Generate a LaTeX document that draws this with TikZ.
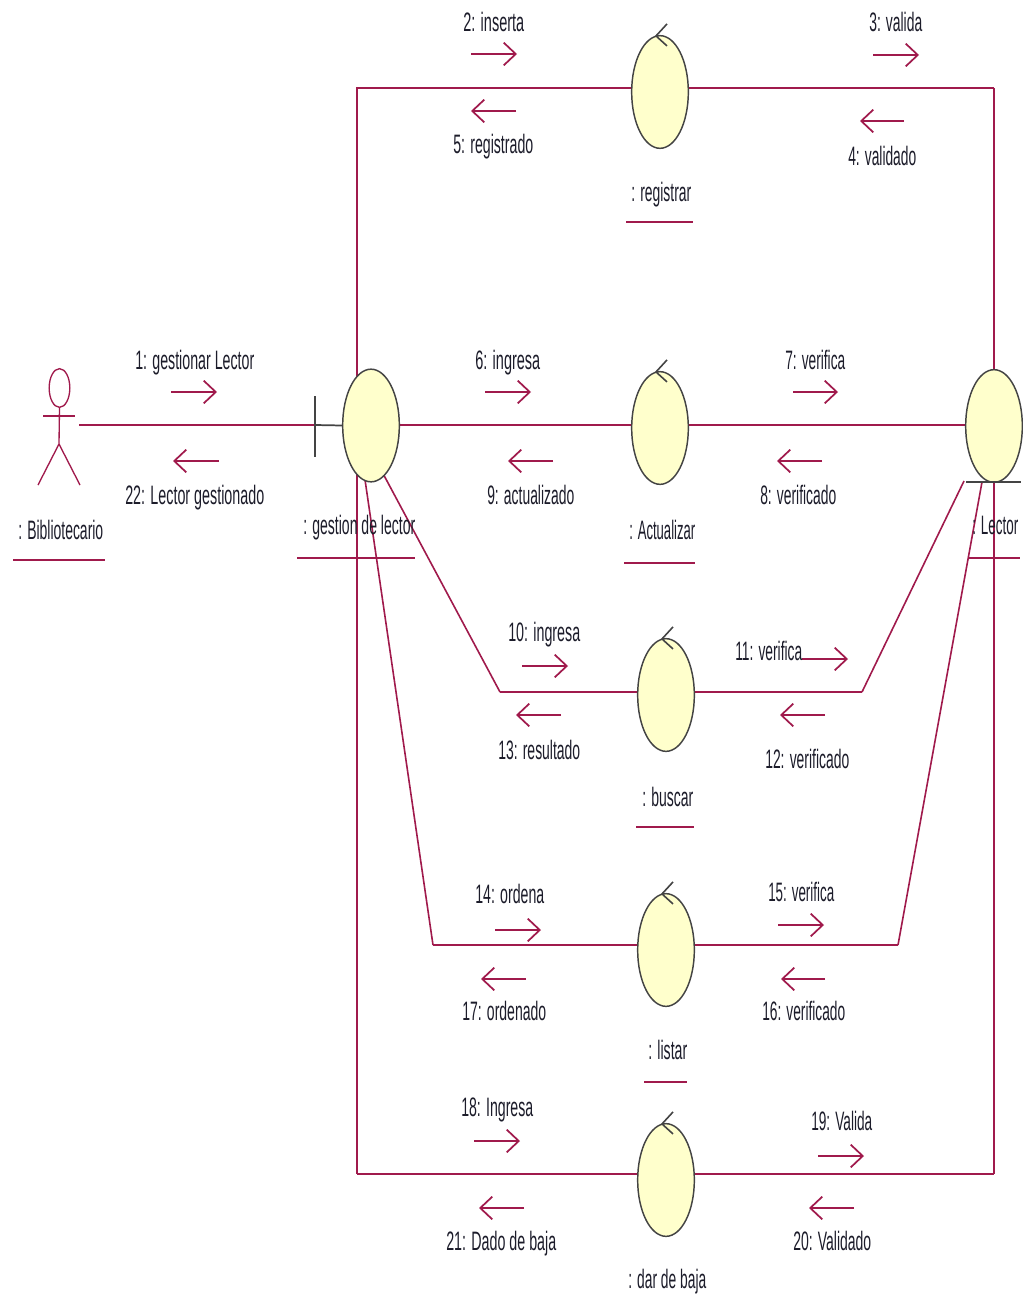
\documentclass[tikz,border=0pt]{standalone}
\usepackage{fontspec}
\setmainfont{Liberation Sans}
\usetikzlibrary{shapes.geometric,arrows.meta,backgrounds}
\definecolor{crim}{HTML}{A01A4C}
\definecolor{bubble}{HTML}{FFFFCC}
\definecolor{ink}{HTML}{1C1C2A}
\definecolor{edge}{HTML}{444444}
\tikzset{
  bubblenode/.style={ellipse,draw=edge,fill=bubble,line width=1.1pt,inner sep=0pt,minimum width=42.5pt,minimum height=84.5pt},
  link/.style={crim,line width=2pt},
  thinlink/.style={crim,line width=1.2pt},
  msgarrow/.style={crim,line width=1.6pt,-{Straight Barb[length=9pt,width=17pt,line width=1.3pt]}},
  underl/.style={crim,line width=1.7pt},
  labeltext/.style={anchor=base west,inner sep=0pt,text=ink,font=\fontsize{20pt}{24pt}\selectfont},
  blackline/.style={edge,line width=1.3pt},
  figure/.style={crim,line width=1pt}
}
\newcommand{\lbl}[5]{%
  \pgfmathsetlengthmacro{\lblw}{(#3-#2)*0.75pt}%
  \node[labeltext] (#1) at (#2,#4) {\resizebox{\lblw}{\height}{#5}};}
\newcommand{\msg}[4]{%
  \coordinate (#1a) at (#2,#4); \coordinate (#1b) at (#3,#4);
  \draw[msgarrow] (#1a) -- (#1b);}
\newcommand{\ctrlmark}[1]{%
  \draw[edge,line width=1.2pt] ([shift={(7,-11)}]#1.north) -- ([shift={(-4,1)}]#1.north) -- ([shift={(7,11)}]#1.north);}
\newcommand{\ul}[4]{%
  \coordinate (#1a) at (#2,#4); \coordinate (#1b) at (#3,#4);
  \draw[underl] (#1a) -- (#1b);}
\begin{document}
\begin{tikzpicture}[x=0.75pt,y=-0.75pt]
\useasboundingbox (0,0) rectangle (1023,1309);
% bubbles
\node[bubblenode] (gest) at (371,425.5) {};
\node[bubblenode] (lector) at (994,426) {};
\node[bubblenode] (reg) at (660,92) {};
\node[bubblenode] (act) at (660,428) {};
\node[bubblenode] (busc) at (666,695) {};
\node[bubblenode] (list) at (666,950) {};
\node[bubblenode] (baja) at (666,1180) {};
\foreach \n in {reg,act,busc,list,baja}{\ctrlmark{\n}}
% actor
\node[ellipse,draw=crim,line width=1pt,inner sep=0pt,minimum width=15.5pt,minimum height=29pt] (head) at (59.5,388) {};
\coordinate (hip) at (59,444);
\coordinate (armL) at (43,416); \coordinate (armR) at (75,416);
\coordinate (legL) at (38,485); \coordinate (legR) at (80,485);
\draw[figure] (head.south) -- (hip) -- (legL);
\draw[figure] (hip) -- (legR);
\draw[figure] (armL) -- (armR);
% boundary and entity marks
\coordinate (barT) at (315,396); \coordinate (barB) at (315,457);
\draw[blackline] (barT) -- (barB);
\coordinate (barM) at (315,425);
\draw[blackline] (barM) -- (gest.center -| gest.west);
\coordinate (entL) at (966,482); \coordinate (entR) at (1021,482);
\draw[blackline] (entL) -- (entR);
% connectors
\coordinate (gc) at (357,425);
\coordinate (lc) at (994,426);
\coordinate (actorEnd) at (79,425);
\coordinate (rowA) at (660,425);
\coordinate (tl) at (357,88); \coordinate (tr) at (994,88);
\coordinate (bl) at (357,1174); \coordinate (br) at (994,1174);
\coordinate (k1) at (500,692); \coordinate (k2) at (862,692);
\coordinate (k3) at (433,945); \coordinate (k4) at (898,945);
\coordinate (e1) at (964,481); \coordinate (e2) at (982,482);
\begin{scope}[on background layer]
\draw[link] (actorEnd) -- (barM);
\draw[link] (gc) -- (tl) -- (reg.center |- tl);
\draw[link] (reg.center |- tr) -- (tr);
\draw[thinlink] (tr) -- (lc);
\draw[link] (gest.center |- rowA) -- (rowA);
\draw[link] (rowA) -- (lector.center |- rowA);
\draw[thinlink] (gc) -- (k1);
\draw[link] (k1) -- (busc.center |- k1);
\draw[link] (busc.center |- k2) -- (k2);
\draw[thinlink] (k2) -- (e1);
\draw[thinlink] (gc) -- (k3);
\draw[link] (k3) -- (list.center |- k3);
\draw[link] (list.center |- k4) -- (k4);
\draw[thinlink] (k4) -- (e2);
\draw[thinlink] (gc) -- (bl);
\draw[link] (bl) -- (baja.center |- bl);
\draw[link] (baja.center |- br) -- (br);
\draw[thinlink] (br) -- (lc);
\end{scope}
% message arrows
\msg{m2}{471}{517}{54}
\msg{m5}{516}{471}{111}
\msg{m3}{873}{919}{55}
\msg{m4}{904}{860}{121}
\msg{m1}{171}{217}{392}
\msg{m22}{219}{173}{461}
\msg{m6}{485}{531}{392}
\msg{m9}{553}{508}{461}
\msg{m7}{793}{838}{392}
\msg{m8}{822}{777}{461}
\msg{m10}{522}{568}{666}
\msg{m13}{561}{516}{715}
\msg{m11}{802}{848}{659}
\msg{m12}{825}{780}{715}
\msg{m14}{495}{541}{930}
\msg{m17}{526}{481}{979}
\msg{m15}{778}{824}{925}
\msg{m16}{825}{781}{979}
\msg{m18}{474}{520}{1141}
\msg{m21}{524}{479}{1208}
\msg{m19}{818}{864}{1156}
\msg{m20}{854}{809}{1208}
% underlines
\ul{u1}{626}{693}{222}
\ul{u2}{13}{105}{560}
\ul{u3}{297}{415}{558}
\ul{u4}{624}{695}{563}
\ul{u5}{968}{1020}{558}
\ul{u6}{636}{694}{827}
\ul{u7}{644}{687}{1082}
% labels
\lbl{t2}{463}{524}{32}{2: inserta}
\lbl{t3}{869}{922}{32}{3: valida}
\lbl{t5}{453}{533}{154}{5: registrado}
\lbl{t4}{848}{916}{166}{4: validado}
\lbl{nreg}{631}{691}{201}{: registrar}
\lbl{t1}{135}{254}{369}{1: gestionar Lector}
\lbl{t22}{125}{264}{504}{22: Lector gestionado}
\lbl{nbib}{18}{103}{539}{: Bibliotecario}
\lbl{ngest}{303}{415}{534}{: gestion de lector}
\lbl{t6}{475}{540}{369}{6: ingresa}
\lbl{t9}{487}{574}{504}{9: actualizado}
\lbl{t7}{785}{845}{369}{7: verifica}
\lbl{t8}{760}{836}{504}{8: verificado}
\lbl{nact}{629}{695}{539}{: Actualizar}
\lbl{nlec}{972}{1018}{534}{: Lector}
\lbl{t10}{508}{580}{641}{10: ingresa}
\lbl{t13}{498}{580}{759}{13: resultado}
\lbl{t11}{735}{802}{660}{11: verifica}
\lbl{t12}{765}{849}{768}{12: verificado}
\lbl{nbus}{642}{693}{806}{: buscar}
\lbl{t14}{475}{544}{903}{14: ordena}
\lbl{t17}{462}{546}{1020}{17: ordenado}
\lbl{t15}{768}{834}{901}{15: verifica}
\lbl{t16}{762}{845}{1020}{16: verificado}
\lbl{nlis}{648}{687}{1059}{: listar}
\lbl{t18}{461}{533}{1116}{18: Ingresa}
\lbl{t21}{446}{556}{1250}{21: Dado de baja}
\lbl{t19}{811}{872}{1130}{19: Valida}
\lbl{t20}{793}{871}{1250}{20: Validado}
\lbl{nbaj}{628}{706}{1288}{: dar de baja}
\end{tikzpicture}
\end{document}
